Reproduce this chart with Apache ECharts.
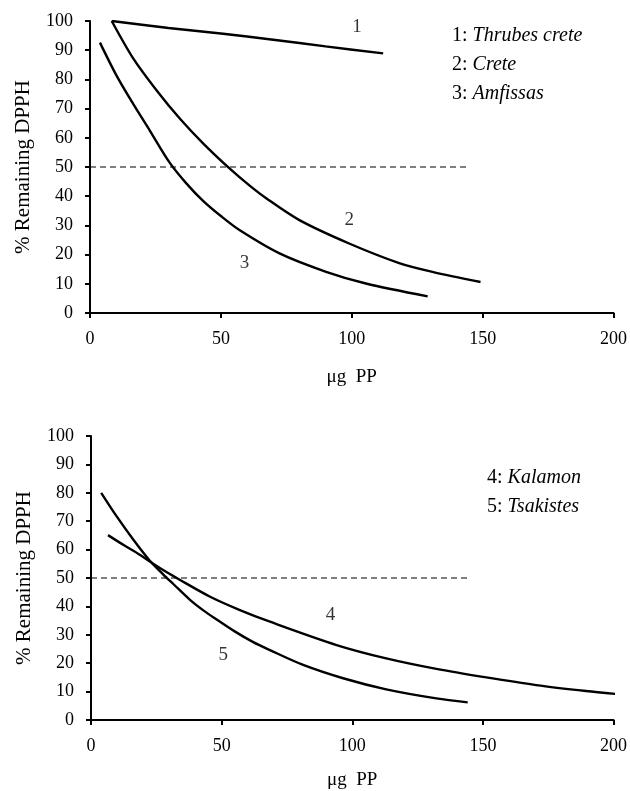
<!DOCTYPE html>
<html>
<head>
<meta charset="utf-8">
<script src="https://cdn.jsdelivr.net/npm/echarts@6/dist/echarts.min.js"></script>
<style>
html,body{margin:0;padding:0;background:#fff;}
#chart{width:630px;height:791px;}
</style>
</head>
<body>
<div id="chart"></div>
<script>
// ---- data ----
const xTicks = [0, 50, 100, 150, 200];
const yTicks = [0, 10, 20, 30, 40, 50, 60, 70, 80, 90, 100];

// Top panel
const thrubesCrete = [[8.3,100],[30,97.6],[50,95.7],[70,93.6],[90,91.3],[112,88.9]];
const crete = [[8.3,100],[16.5,87.2],[25.4,76.3],[34.3,66.6],[43.2,58.1],[53.3,49.5],[61,43.6],[67.3,39.3],[80,31.8],[99,23.8],[118.1,17.1],[130.8,14.1],[149.2,10.6]];
const amfissas = [[3.8,92.6],[10.2,81.2],[16.5,71.6],[22.9,62.4],[30.5,51.4],[36.8,44.4],[43.2,38.4],[50,33.2],[57.1,28.4],[72.4,20.4],[90.2,14.1],[105.4,10.1],[129,5.7]];

// Bottom panel
const kalamon = [[6.5,65.1],[12.5,61.6],[18.8,58.1],[26.5,53.4],[34.1,49.3],[45.6,43.4],[57,38.7],[68.5,34.6],[94,26.4],[113,21.7],[132.2,18],[151.3,15],[170.4,12.3],[189.5,10.2],[202.8,9.0]];
const tsakistes = [[3.9,80],[9.9,71.6],[16.3,63.4],[22.7,55.9],[27.7,51.2],[31.6,47.8],[37.9,42.3],[43,38.6],[48.1,35.4],[55,31.2],[62.1,27.4],[68.5,24.6],[81.2,19.4],[96.5,14.7],[113,10.8],[132.2,7.6],[144.2,6.2]];

// 50% reference line
const refLine = [[0,50],[144,50]];

// curve number annotations [x, y, text]
const topNums = [[102,98,'1'],[99,31.8,'2'],[59,17,'3']];
const bottomNums = [[91.7,37,'4'],[50.6,23,'5']];

// legend texts
const topLegend = [['1: ','Thrubes crete'],['2: ','Crete'],['3: ','Amfissas']];
const bottomLegend = [['4: ','Kalamon'],['5: ','Tsakistes']];

// ---- chart ----
const FONT = 'Liberation Serif';
const chart = echarts.init(document.getElementById('chart'));

function xAxisCfg(gi, gap){
  return {
    type:'value', gridIndex:gi, min:0, max:200, interval:50,
    name:'μg  PP', nameLocation:'middle', nameGap:gap,
    nameTextStyle:{fontFamily:FONT, fontSize:19, color:'#000'},
    axisLine:{show:true, onZero:false, lineStyle:{color:'#000', width:2}},
    axisTick:{show:true, inside:false, length:5, lineStyle:{color:'#000', width:2}},
    axisLabel:{fontFamily:FONT, fontSize:18, color:'#000', margin:17},
    splitLine:{show:false}
  };
}
function yAxisCfg(gi){
  return {
    type:'value', gridIndex:gi, min:0, max:100, interval:10,
    name:'% Remaining DPPH', nameLocation:'middle', nameGap:56, nameRotate:90,
    nameTextStyle:{fontFamily:FONT, fontSize:21, color:'#000'},
    axisLine:{show:true, onZero:false, lineStyle:{color:'#000', width:2}},
    axisTick:{show:true, inside:false, length:5, lineStyle:{color:'#000', width:2}},
    axisLabel:{fontFamily:FONT, fontSize:18, color:'#000', margin:17},
    splitLine:{show:false}
  };
}
function curve(data, gi){
  return {type:'line', xAxisIndex:gi, yAxisIndex:gi, data:data, smooth:0.3,
    showSymbol:false, symbol:'none', silent:true,
    lineStyle:{color:'#000', width:2.4}};
}
function dashed(gi){
  return {type:'line', xAxisIndex:gi, yAxisIndex:gi, data:refLine, showSymbol:false, symbol:'none', silent:true,
    lineStyle:{color:'#000', width:1.2, type:[6,4]}};
}
function nums(arr, gi){
  return {type:'scatter', xAxisIndex:gi, yAxisIndex:gi, data:arr, symbolSize:1, silent:true,
    itemStyle:{color:'rgba(0,0,0,0)'},
    label:{show:true, position:'inside', formatter:p=>p.value[2], fontFamily:FONT, fontSize:19, color:'#000'}};
}
function legendGraphics(arr, x, y0, dy){
  return arr.map((t,i)=>({
    type:'text', left:x, top:y0 + i*dy - 11,
    style:{text: t[0] + '{i|' + t[1] + '}', font:'20px "Liberation Serif"', fill:'#000',
      rich:{i:{fontStyle:'italic', fontFamily:FONT, fontSize:20, fill:'#000', color:'#000'}}}
  }));
}

chart.setOption({
  animation:false,
  backgroundColor:'#fff',
  grid:[
    {left:90, top:21, width:525, height:292, containLabel:false},
    {left:91, top:436, width:523.5, height:284, containLabel:false}
  ],
  xAxis:[xAxisCfg(0,55), xAxisCfg(1,51)],
  yAxis:[yAxisCfg(0), yAxisCfg(1)],
  series:[
    curve(thrubesCrete,0), curve(crete,0), curve(amfissas,0), dashed(0), nums(topNums,0),
    curve(kalamon,1), curve(tsakistes,1), dashed(1), nums(bottomNums,1)
  ],
  graphic: legendGraphics(topLegend, 452, 37, 29).concat(legendGraphics(bottomLegend, 487, 479, 29))
});
</script>
</body>
</html>
